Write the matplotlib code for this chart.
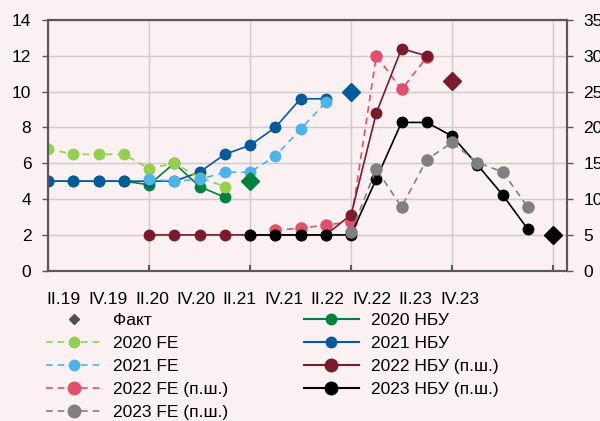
import matplotlib.pyplot as plt
from matplotlib.lines import Line2D
import numpy as np

plt.rcParams['font.family'] = ['Liberation Sans', 'DejaVu Sans']
plt.rcParams['font.size'] = 12

# quarter index: 0 = I.19 ... 20 = I.24
fe20_x = [0, 1, 2, 3, 4, 5, 6, 7]
fe20 = [6.8, 6.5, 6.5, 6.5, 5.7, 6.0, 5.2, 4.7]
nbu20_x = [0, 1, 2, 3, 4, 5, 6, 7]
nbu20 = [5.0, 5.0, 5.0, 5.0, 4.8, 6.0, 4.7, 4.1]

fe21_x = [4, 5, 6, 7, 8, 9, 10, 11]
fe21 = [5.1, 5.0, 5.1, 5.5, 5.5, 6.4, 7.9, 9.4]
nbu21_x = [0, 1, 2, 3, 4, 5, 6, 7, 8, 9, 10, 11]
nbu21 = [5.0, 5.0, 5.0, 5.0, 5.0, 5.0, 5.5, 6.5, 7.0, 8.0, 9.6, 9.6]

# right scale (п.ш.)
fe22_x = [9, 10, 11, 12, 13, 14, 15]
fe22 = [5.7, 5.9, 6.4, 6.8, 30.0, 25.3, 29.8]
nbu22_x = [4, 5, 6, 7, 8, 9, 10, 11, 12, 13, 14, 15]
nbu22 = [5.0, 5.0, 5.0, 5.0, 5.0, 5.0, 5.0, 5.0, 7.8, 22.0, 31.0, 30.0]

fe23_x = [12, 13, 14, 15, 16, 17, 18, 19]
fe23 = [5.4, 14.2, 8.9, 15.5, 17.9, 15.1, 13.8, 8.9]
nbu23_x = [8, 9, 10, 11, 12, 13, 14, 15, 16, 17, 18, 19]
nbu23 = [5.0, 5.0, 5.0, 5.0, 5.0, 12.8, 20.7, 20.7, 18.8, 14.8, 10.6, 5.8]

# facts: (quarter, value)
fact20 = (8, 5.0)
fact21 = (12, 10.0)
fact22 = (16, 26.5)
fact23 = (20, 5.0)

tick_labels = ['II.19', 'IV.19', 'II.20', 'IV.20', 'II.21', 'IV.21',
               'II.22', 'IV.22', 'II.23', 'IV.23']

c_lg = '#92d050'
c_dg = '#00823b'
c_lb = '#4db3ea'
c_db = '#005a9c'
c_pk = '#e0506a'
c_dr = '#7b1a2d'
c_gr = '#808080'
c_bk = '#000000'
bg = '#fbf0f2'
dash = (0, (4, 3))

fig = plt.figure(figsize=(6, 4.21), dpi=100, facecolor=bg)
ax = fig.add_axes([0.08, 0.357, 0.8645, 0.5955])
ax.set_facecolor(bg)
ax2 = ax.twinx()
ax2.patch.set_visible(False)

ms = 7.5
lw = 1.2

ax.plot(nbu20_x, nbu20, color=c_dg, lw=lw, marker='o', ms=ms, label='2020 НБУ')
ax.plot(nbu21_x, nbu21, color=c_db, lw=lw, marker='o', ms=ms, label='2021 НБУ')
ax.plot(fe20_x, fe20, color=c_lg, lw=lw, ls=dash, marker='o', ms=ms, label='2020 FE')
ax.plot(fe21_x, fe21, color=c_lb, lw=lw, ls=dash, marker='o', ms=ms, label='2021 FE')
ax.plot(*fact20, color=c_dg, marker='D', ms=9, ls='none')
ax.plot(*fact21, color=c_db, marker='D', ms=9, ls='none')

ax2.plot(fe22_x, fe22, color=c_pk, lw=lw, ls=dash, marker='o', ms=ms + 0.5, label='2022 FE (п.ш.)')
ax2.plot(nbu22_x, nbu22, color=c_dr, lw=lw, marker='o', ms=ms, label='2022 НБУ (п.ш.)')
ax2.plot(nbu23_x, nbu23, color=c_bk, lw=lw, marker='o', ms=ms, label='2023 НБУ (п.ш.)')
ax2.plot(fe23_x, fe23, color=c_gr, lw=lw, ls=dash, marker='o', ms=ms + 0.5, label='2023 FE (п.ш.)')
ax2.plot(*fact22, color=c_dr, marker='D', ms=9, ls='none')
ax2.plot(*fact23, color=c_bk, marker='D', ms=9, ls='none')

ax.set_xlim(0, 20.54)
ax.set_ylim(0, 14)
ax2.set_ylim(0, 35)
ax.set_yticks(np.arange(0, 15, 2))
ax2.set_yticks(np.arange(0, 36, 5))

# labels sit on their own spacing, gridlines every 4 quarters
ax.set_xticks(np.linspace(0.63, 16.3, len(tick_labels)))
ax.set_xticklabels(tick_labels)
ax.tick_params(axis='x', which='major', length=0, pad=15, labelsize=12.5)
ax.set_xticks(np.arange(0, 21, 4), minor=True)
ax.tick_params(axis='x', which='minor', direction='in', length=4, width=1.5, color='#595959')
ax.grid(True, which='minor', axis='x', color='#cccccc', lw=1)
ax.grid(True, which='major', axis='y', color='#cccccc', lw=1)
ax.set_axisbelow(True)
ax.tick_params(axis='y', length=4, width=1, color='#595959', pad=8, labelsize=12.5)
ax2.tick_params(axis='y', length=4, width=1, color='#595959', pad=8, labelsize=12.5)

for a in (ax, ax2):
    for s in a.spines.values():
        s.set_color('#595959')
        s.set_linewidth(1.5)

handles = [
    Line2D([], [], color='#505050', marker='D', ms=5, ls='none'),
    Line2D([], [], color=c_lg, lw=lw, ls=dash, marker='o', ms=ms),
    Line2D([], [], color=c_lb, lw=lw, ls=dash, marker='o', ms=ms),
    Line2D([], [], color=c_pk, lw=lw, ls=dash, marker='o', ms=ms + 1.5),
    Line2D([], [], color=c_gr, lw=lw, ls=dash, marker='o', ms=ms + 1.5),
    Line2D([], [], color=c_dg, lw=1.5, marker='o', ms=ms),
    Line2D([], [], color=c_db, lw=1.5, marker='o', ms=ms),
    Line2D([], [], color=c_dr, lw=1.5, marker='o', ms=ms + 1.5),
    Line2D([], [], color=c_bk, lw=1.5, marker='o', ms=ms + 1.5),
]
labels = ['Факт', '2020 FE', '2021 FE', '2022 FE (п.ш.)', '2023 FE (п.ш.)',
          '2020 НБУ', '2021 НБУ', '2022 НБУ (п.ш.)', '2023 НБУ (п.ш.)']
fig.legend(handles, labels, ncol=2, loc='upper left', bbox_to_anchor=(0.077, 0.256),
           frameon=False, handlelength=3.2, handletextpad=0.65, columnspacing=4.35,
           labelspacing=0.45, borderpad=0, borderaxespad=0, fontsize=12.5)

fig.savefig('out.png', dpi=100, facecolor=bg)
